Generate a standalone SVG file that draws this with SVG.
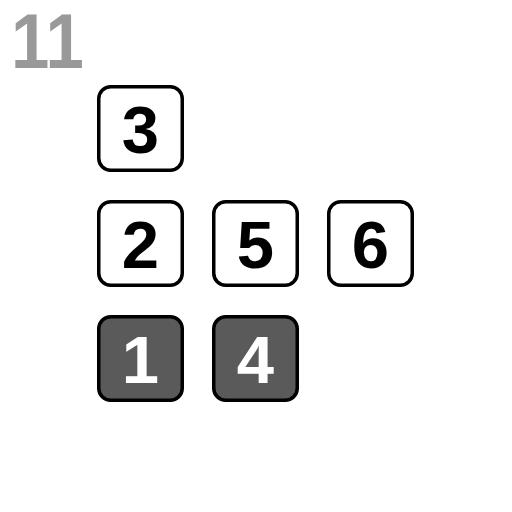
<svg xmlns="http://www.w3.org/2000/svg" width="512" height="512" viewBox="0 0 512 512">
<style>
.box{fill:#ffffff;stroke:#000000;stroke-width:3.5}
.dark{fill:#5a5a5a;stroke:#000000;stroke-width:3.5}
.num{font-family:"Liberation Sans",Arial,sans-serif;font-weight:bold;font-size:67px;text-anchor:middle;fill:#000000}
.numw{font-family:"Liberation Sans",Arial,sans-serif;font-weight:bold;font-size:67px;text-anchor:middle;fill:#ffffff}
.title{font-family:"Liberation Sans",Arial,sans-serif;font-weight:bold;font-size:69px;fill:#999999}
</style>
<rect width="512" height="512" fill="#ffffff"/>
<text class="title" transform="translate(11,68) scale(1,1.12)" x="0" y="0">11</text>
<g id="connectors"></g>
<g id="n3"><rect class="box" x="98.75" y="86.75" width="83.5" height="83.5" rx="12"/><text class="num" x="140.5" y="153">3</text></g>
<g id="n2"><rect class="box" x="98.75" y="201.75" width="83.5" height="83.5" rx="12"/><text class="num" x="140.5" y="268">2</text></g>
<g id="n5"><rect class="box" x="213.75" y="201.75" width="83.5" height="83.5" rx="12"/><text class="num" x="255.5" y="268">5</text></g>
<g id="n6"><rect class="box" x="328.75" y="201.75" width="83.5" height="83.5" rx="12"/><text class="num" x="370.5" y="268">6</text></g>
<g id="n1"><rect class="dark" x="98.75" y="316.75" width="83.5" height="83.5" rx="12"/><text class="numw" x="140.5" y="383">1</text></g>
<g id="n4"><rect class="dark" x="213.75" y="316.75" width="83.5" height="83.5" rx="12"/><text class="numw" x="255.5" y="383">4</text></g>
</svg>
